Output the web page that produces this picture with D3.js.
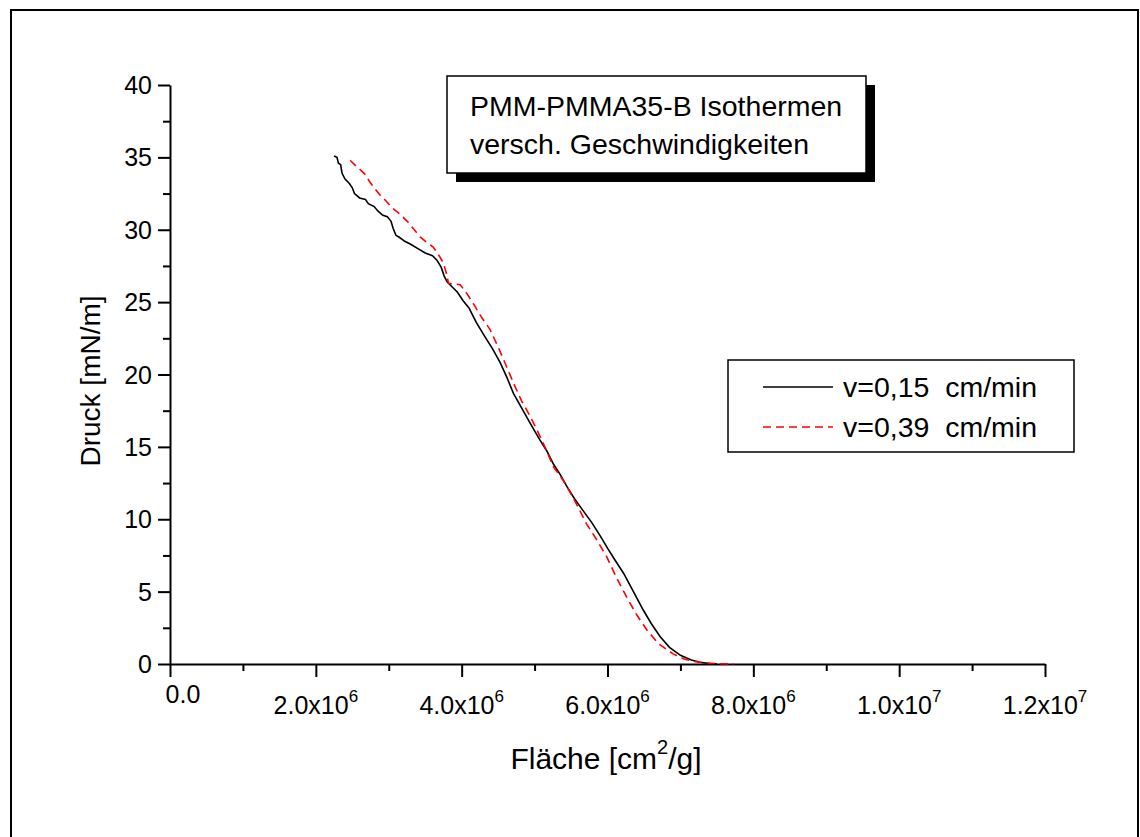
<!DOCTYPE html>
<html>
<head>
<meta charset="utf-8">
<script src="https://cdn.jsdelivr.net/npm/d3@7"></script>
<style>
  body { margin: 0; background: #fff; }
  svg { display: block; }
  text { font-family: "Liberation Sans", Arial, Helvetica, sans-serif; fill: #000; }
</style>
</head>
<body>
<svg id="chart" width="1140" height="837"></svg>
<script>
// Compression isotherms of PMM-PMMA35-B at two barrier speeds
const titleLines = ["PMM-PMMA35-B Isothermen", "versch. Geschwindigkeiten"];
const seriesNames = ["v=0,15\u00a0 cm/min", "v=0,39\u00a0 cm/min"];
const xTicks = [0, 2e6, 4e6, 6e6, 8e6, 1e7, 1.2e7];
const xMinorTicks = [1e6, 3e6, 5e6, 7e6, 9e6, 1.1e7];
const yTicks = [0, 5, 10, 15, 20, 25, 30, 35, 40];
const yMinorTicks = [2.5, 7.5, 12.5, 17.5, 22.5, 27.5, 32.5, 37.5];

// v = 0,15 cm/min : area [cm²/g] and surface pressure [mN/m]
const areaSlow = [
  2.25e6, 2.29e6, 2.31e6, 2.34e6, 2.36e6, 2.40e6, 2.46e6, 2.50e6, 2.53e6, 2.60e6,
  2.68e6, 2.72e6, 2.80e6, 2.85e6, 2.92e6, 2.98e6, 3.03e6, 3.06e6, 3.10e6, 3.14e6,
  3.22e6, 3.30e6, 3.40e6, 3.50e6, 3.60e6, 3.66e6, 3.72e6, 3.76e6, 3.80e6, 3.86e6,
  3.94e6, 4.02e6, 4.10e6, 4.20e6, 4.32e6, 4.42e6, 4.53e6, 4.62e6, 4.71e6, 4.81e6,
  4.91e6, 5.00e6, 5.07e6, 5.17e6, 5.26e6, 5.35e6, 5.45e6, 5.55e6, 5.65e6, 5.78e6,
  5.90e6, 6.00e6, 6.10e6, 6.22e6, 6.35e6, 6.49e6, 6.60e6, 6.72e6, 6.85e6, 7.00e6,
  7.15e6, 7.27e6, 7.40e6, 7.50e6
];
const pressureSlow = [
  35.1, 35.0, 34.6, 34.5, 33.9, 33.5, 33.2, 32.9, 32.5, 32.2,
  32.1, 31.8, 31.6, 31.3, 31.0, 30.9, 30.6, 30.1, 29.6, 29.5,
  29.2, 29.0, 28.7, 28.4, 28.2, 27.9, 27.4, 26.8, 26.4, 26.1,
  25.7, 25.1, 24.6, 23.6, 22.6, 21.8, 20.8, 19.8, 18.7, 17.8,
  16.9, 16.1, 15.5, 14.7, 13.8, 13.1, 12.2, 11.4, 10.7, 9.8,
  8.85, 8.0, 7.2, 6.27, 5.05, 3.73, 2.8, 1.9, 1.15, 0.6,
  0.28, 0.12, 0.03, 0.0
];

// v = 0,39 cm/min : area [cm²/g] and surface pressure [mN/m]
const areaFast = [
  2.47e6, 2.55e6, 2.62e6, 2.68e6, 2.74e6, 2.80e6, 2.88e6, 2.96e6, 3.05e6, 3.15e6,
  3.25e6, 3.35e6, 3.43e6, 3.53e6, 3.61e6, 3.68e6, 3.75e6, 3.79e6, 3.82e6, 3.90e6,
  3.98e6, 4.07e6, 4.16e6, 4.28e6, 4.39e6, 4.50e6, 4.62e6, 4.72e6, 4.82e6, 4.93e6,
  5.03e6, 5.15e6, 5.26e6, 5.35e6, 5.44e6, 5.58e6, 5.71e6, 5.85e6, 5.99e6, 6.12e6,
  6.26e6, 6.40e6, 6.54e6, 6.70e6, 6.90e6, 7.05e6, 7.18e6, 7.35e6, 7.55e6, 7.73e6
];
const pressureFast = [
  34.8, 34.4, 34.1, 33.8, 33.3, 32.9, 32.4, 32.0, 31.5, 31.1,
  30.6, 30.0, 29.5, 29.1, 28.8, 28.3, 27.7, 27.0, 26.3, 26.25,
  26.2, 25.6, 24.9, 23.9, 23.1, 21.9, 20.5, 19.3, 18.2, 17.2,
  16.2, 14.9, 13.6, 13.0, 12.3, 11.0, 9.7, 8.6, 7.4, 6.0,
  4.65, 3.4, 2.35, 1.4, 0.7, 0.35, 0.18, 0.07, 0.02, 0.0
];

const svg = d3.select("#chart");

// page frame
svg.append("rect")
  .attr("x", 11).attr("y", 10).attr("width", 1127).attr("height", 900)
  .attr("fill", "none").attr("stroke", "#000").attr("stroke-width", 2);

const plot = { left: 170, right: 1045, top: 85, bottom: 664 };
const x = d3.scaleLinear().domain([0, 1.2e7]).range([plot.left, plot.right]);
const y = d3.scaleLinear().domain([0, 40]).range([plot.bottom, plot.top]);

// x axis: major and minor ticks
const gx = svg.append("g").attr("transform", `translate(0,${plot.bottom})`);
gx.call(d3.axisBottom(x).tickValues(xTicks).tickSize(13).tickSizeOuter(0).tickFormat(""));
const gxm = svg.append("g").attr("transform", `translate(0,${plot.bottom})`);
gxm.call(d3.axisBottom(x).tickValues(xMinorTicks).tickSize(7).tickSizeOuter(0).tickFormat(""));
gxm.select(".domain").remove();

// y axis: major and minor ticks
const gy = svg.append("g").attr("transform", `translate(${plot.left},0)`);
gy.call(d3.axisLeft(y).tickValues(yTicks).tickSize(12).tickSizeOuter(0).tickFormat(""));
const gym = svg.append("g").attr("transform", `translate(${plot.left},0)`);
gym.call(d3.axisLeft(y).tickValues(yMinorTicks).tickSize(7).tickSizeOuter(0).tickFormat(""));
gym.select(".domain").remove();

svg.selectAll(".domain, .tick line").attr("stroke", "#000").attr("stroke-width", 2);

// x tick labels in mantissa x 10^exponent notation
xTicks.forEach(v => {
  const t = svg.append("text").attr("font-size", 25).attr("text-anchor", "middle");
  if (v === 0) {
    t.attr("x", x(v) + 13).attr("y", 703).text("0.0");
    return;
  }
  const e = Math.floor(Math.log10(v));
  const m = (v / Math.pow(10, e)).toFixed(1);
  t.attr("x", x(v)).attr("y", 714);
  t.append("tspan").text(m + "x10");
  t.append("tspan").attr("font-size", 17).attr("dy", -12).text(e);
});

// y tick labels
yTicks.forEach(v => {
  svg.append("text").attr("font-size", 25).attr("text-anchor", "end")
    .attr("x", 152).attr("y", y(v) + 9).text(v);
});

// axis titles
const xl = svg.append("text").attr("font-size", 30).attr("text-anchor", "middle")
  .attr("x", 606).attr("y", 769);
xl.append("tspan").text("Fläche [cm");
xl.append("tspan").attr("font-size", 20).attr("dy", -15).text("2");
xl.append("tspan").attr("dy", 15).text("/g]");

svg.append("text").attr("font-size", 28).attr("text-anchor", "middle")
  .attr("transform", "translate(100,381) rotate(-90)").text("Druck [mN/m]");

// isotherm curves
const line = d3.line().x(d => x(d[0])).y(d => y(d[1]));
svg.append("path")
  .datum(d3.zip(areaSlow, pressureSlow))
  .attr("d", line).attr("fill", "none").attr("stroke", "#000").attr("stroke-width", 1.6);
svg.append("path")
  .datum(d3.zip(areaFast, pressureFast))
  .attr("d", line).attr("fill", "none").attr("stroke", "#ff0000").attr("stroke-width", 1.6)
  .attr("stroke-dasharray", "8,5");

// title box with drop shadow
const tb = { x: 447, y: 76, w: 419, h: 97 };
svg.append("rect").attr("x", tb.x + 9).attr("y", tb.y + 9).attr("width", tb.w).attr("height", tb.h)
  .attr("fill", "#000");
svg.append("rect").attr("x", tb.x).attr("y", tb.y).attr("width", tb.w).attr("height", tb.h)
  .attr("fill", "#fff").attr("stroke", "#000").attr("stroke-width", 1.5);
titleLines.forEach((s, i) => {
  svg.append("text").attr("font-size", 28.5).attr("x", 470).attr("y", 116 + i * 38).text(s);
});

// legend
const lg = { x: 728, y: 360, w: 346, h: 92 };
svg.append("rect").attr("x", lg.x).attr("y", lg.y).attr("width", lg.w).attr("height", lg.h)
  .attr("fill", "#fff").attr("stroke", "#000").attr("stroke-width", 1.5);
const legendStyles = [
  { stroke: "#000", dash: null },
  { stroke: "#ff0000", dash: "8,5" }
];
seriesNames.forEach((name, i) => {
  const cy = 387 + i * 40;
  svg.append("line").attr("x1", 763).attr("x2", 833).attr("y1", cy).attr("y2", cy)
    .attr("stroke", legendStyles[i].stroke).attr("stroke-width", 1.6)
    .attr("stroke-dasharray", legendStyles[i].dash);
  svg.append("text").attr("font-size", 28.5).attr("x", 843).attr("y", cy + 10).text(name);
});
</script>
</body>
</html>
